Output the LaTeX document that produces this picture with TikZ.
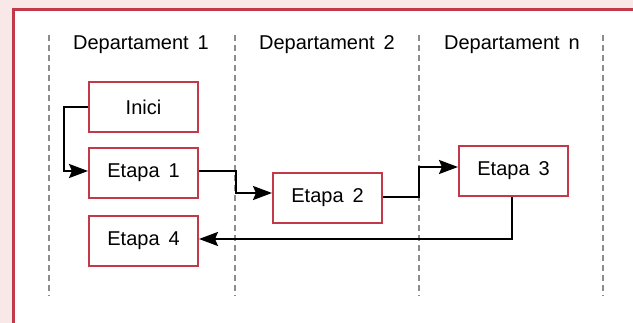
\documentclass[tikz,border=0pt]{standalone}
\usepackage{fontspec}
\setmainfont{Liberation Sans}
\usetikzlibrary{arrows.meta}
\definecolor{frame}{HTML}{C23A4A}
\definecolor{blush}{HTML}{F8E8E8}
\definecolor{lane}{HTML}{8C8C8C}
\tikzset{
  stepbox/.style={draw=frame, line width=2pt, fill=white, minimum width=109pt, minimum height=50pt,
    inner sep=0pt, font=\fontsize{20}{24}\selectfont, anchor=north west},
  lanehead/.style={font=\fontsize{20}{24}\selectfont, anchor=center},
  laneline/.style={draw=lane, line width=1.5pt, dash pattern=on 6pt off 4pt},
  flow/.style={draw=black, line width=2pt, -{Stealth[length=19pt,width=14pt,inset=3pt]}}
}
\begin{document}
\begin{tikzpicture}[x=1pt,y=-1pt]
  \useasboundingbox (0,0) rectangle (633,323);
  \fill[blush] (0,0) rectangle (633,323);
  \begin{scope}
    \clip (0,0) rectangle (633,323);
    \draw[frame, line width=2.8pt, fill=white] (13.5,9.5) rectangle (650,340);
  \end{scope}

  % swimlane separators
  \foreach \x in {49,235,419,603}
    \draw[laneline] (\x,35) -- (\x,296);

  % lane titles
  \node[lanehead] (h1) at (141,45) {Departament\, 1};
  \node[lanehead] (h2) at (327,45) {Departament\, 2};
  \node[lanehead] (h3) at (512,45) {Departament\, n};

  % process steps
  \node[stepbox] (inici) at (88,81)  {Inici};
  \node[stepbox] (e1)    at (88,147) {Etapa\, 1};
  \node[stepbox] (e4)    at (88,215) {Etapa\, 4};
  \node[stepbox] (e2)    at (272,172) {Etapa\, 2};
  \node[stepbox] (e3)    at (458,145) {Etapa\, 3};

  % connectors
  \coordinate (c1) at (64,107);
  \draw[flow] (inici.west |- c1) -- (c1) |- (e1.west |- 0,171);
  \coordinate (c2) at (236,171);
  \draw[flow] (e1.east |- c2) -- (c2) |- (e2.west |- 0,193);
  \coordinate (c3) at (419,197);
  \draw[flow] (e2.east |- c3) -- (c3) |- (e3.west |- 0,167);
  \coordinate (c4) at (512,239);
  \draw[flow] (e3.south -| c4) -- (c4) -- (e4.east |- c4);
\end{tikzpicture}
\end{document}
